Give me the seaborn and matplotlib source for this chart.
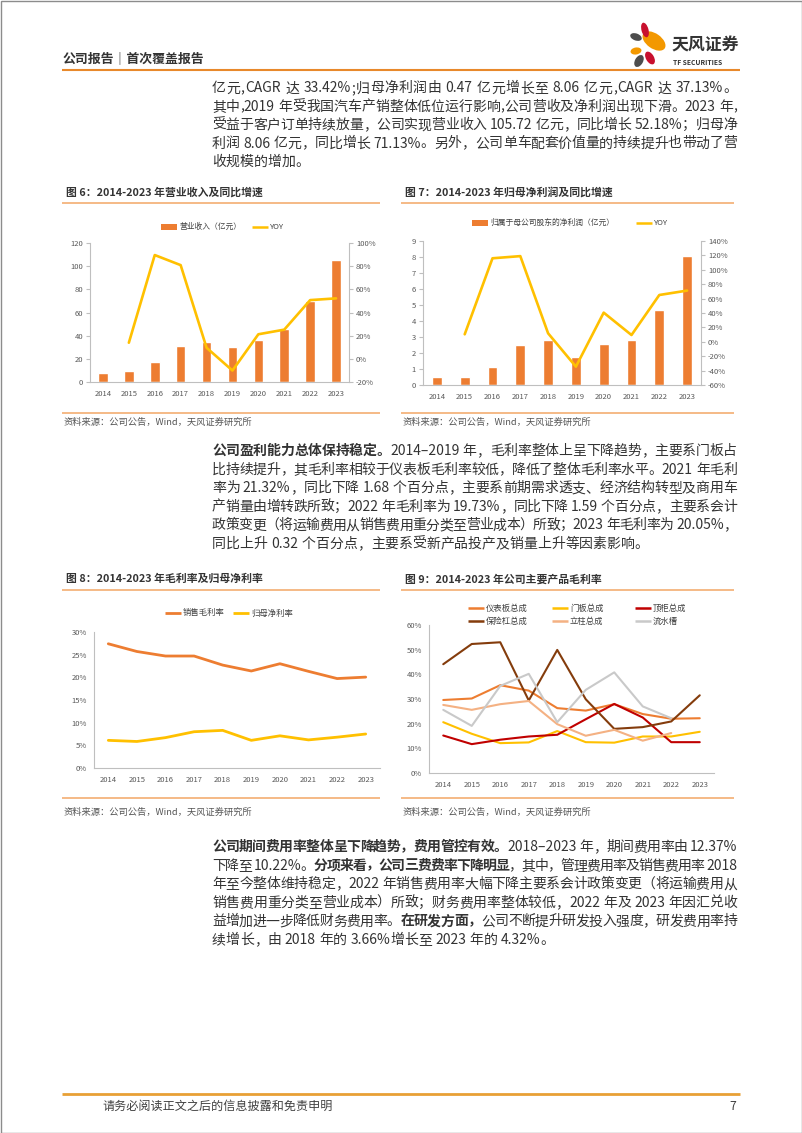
import re

import matplotlib
matplotlib.use("Agg")
import matplotlib.pyplot as plt
import numpy as np
import pandas as pd
import seaborn as sns
from matplotlib.patches import Ellipse, Rectangle
from matplotlib.ticker import FuncFormatter

W, H = 802, 1133

ORANGE = "#ED7D31"
GOLD = "#FFC000"
AXIS_GREY = "#BFBFBF"
TICK_TEXT = "#595959"
RULE = "#F2A766"
HEADER_RULE = "#E8892B"
FOOTER_RULE = "#E8A035"

YEARS = [str(y) for y in range(2014, 2024)]

# 图6 营业收入（亿元）及同比
REVENUE = [7.5, 9.3, 17.1, 30.7, 34.2, 30.1, 36.5, 45.5, 69.6, 105.72]
REVENUE_YOY = [13.9, 89.6, 80.9, 9.6, -10.1, 21.2, 25.2, 50.7, 52.2]  # 2015-2023

# 图7 归母净利润（亿元）及同比
NET_PROFIT = [0.47, 0.52, 1.10, 2.48, 2.81, 1.77, 2.56, 2.81, 4.69, 8.06]
NET_PROFIT_YOY = [10.4, 116.0, 119.0, 11.8, -34.5, 40.5, 9.4, 65.0, 71.13]  # 2015-2023

# 图8 毛利率 / 归母净利率（%）
GROSS_MARGIN = [27.4, 25.7, 24.7, 24.7, 22.7, 21.4, 23.0, 21.32, 19.73, 20.05]
NET_MARGIN = [6.1, 5.85, 6.7, 8.0, 8.3, 6.1, 7.1, 6.2, 6.8, 7.5]

# 图9 主要产品毛利率（%）
PRODUCTS = ["仪表板总成", "门板总成", "顶柜总成", "保险杠总成", "立柱总成", "流水槽"]
PRODUCT_COLORS = ["#ED7D31", "#FFC000", "#C00000", "#843C0C", "#F4B183", "#C9C9C9"]
DASHBOARD = [29.6, 30.2, 35.6, 33.4, 26.3, 25.3, 27.9, 23.9, 22.0, 22.2]
DOOR_PANEL = [20.6, 15.9, 12.1, 12.4, 17.0, 12.5, 12.3, 14.8, 14.8, 16.7]
TOP_CABINET = [15.2, 11.7, 13.5, 14.8, 15.5, 21.8, 28.0, 22.5, 12.5, 12.5]
BUMPER = [44.1, 52.3, 53.0, 29.4, 49.9, 29.9, 17.9, 18.6, 20.9, 31.5]
PILLAR = [27.6, 25.6, 27.9, 29.2, 19.8, 15.1, 17.5, 13.1, 16.2]  # 2014-2022
WATER_TROUGH = [25.6, 19.1, 35.3, 40.2, 20.6, 33.7, 40.8, 27.0, 22.2]  # 2014-2022

SOURCE = "资料来源：公司公告，Wind，天风证券研究所"

PARA_1 = [
    ([("亿元,CAGR 达 33.42%;归母净利润由 0.47 亿元增长至 8.06 亿元,CAGR 达 37.13%。", False)], True),
    ([("其中,2019 年受我国汽车产销整体低位运行影响,公司营收及净利润出现下滑。2023 年,", False)], True),
    ([("受益于客户订单持续放量，公司实现营业收入 105.72 亿元，同比增长 52.18%；归母净", False)], True),
    ([("利润 8.06 亿元，同比增长 71.13%。另外，公司单车配套价值量的持续提升也带动了营", False)], True),
    ([("收规模的增加。", False)], False),
]
PARA_2 = [
    ([("公司盈利能力总体保持稳定。", True), ("2014–2019 年，毛利率整体上呈下降趋势，主要系门板占", False)], True),
    ([("比持续提升，其毛利率相较于仪表板毛利率较低，降低了整体毛利率水平。2021 年毛利", False)], True),
    ([("率为 21.32%，同比下降 1.68 个百分点，主要系前期需求透支、经济结构转型及商用车", False)], True),
    ([("产销量由增转跌所致；2022 年毛利率为 19.73%，同比下降 1.59 个百分点，主要系会计", False)], True),
    ([("政策变更（将运输费用从销售费用重分类至营业成本）所致；2023 年毛利率为 20.05%，", False)], True),
    ([("同比上升 0.32 个百分点，主要系受新产品投产及销量上升等因素影响。", False)], False),
]
PARA_3 = [
    ([("公司期间费用率整体呈下降趋势，费用管控有效。", True), ("2018–2023 年，期间费用率由 12.37%", False)], True),
    ([("下降至 10.22%。", False), ("分项来看，公司三费费率下降明显", True), ("，其中，管理费用率及销售费用率 2018", False)], True),
    ([("年至今整体维持稳定，2022 年销售费用率大幅下降主要系会计政策变更（将运输费用从", False)], True),
    ([("销售费用重分类至营业成本）所致；财务费用率整体较低，2022 年及 2023 年因汇兑收", False)], True),
    ([("益增加进一步降低财务费用率。", False), ("在研发方面，", True), ("公司不断提升研发投入强度，研发费用率持", False)], True),
    ([("续增长，由 2018 年的 3.66%增长至 2023 年的 4.32%。", False)], False),
]

TOKEN_RE = re.compile(r"[A-Za-z0-9.%–\-]+| |.")


def px_axes(fig, left, top, right, bottom):
    return fig.add_axes([left / W, 1 - bottom / H, (right - left) / W, (bottom - top) / H])


def draw_paragraph(page, renderer, lines, x0, y0, width, step, size=10):
    space = size * 1.389 * 0.25
    for i, (segments, justify) in enumerate(lines):
        y = y0 + i * step
        items = []
        for text, bold in segments:
            for tok in TOKEN_RE.findall(text):
                if tok == " ":
                    items.append((None, space))
                    continue
                t = page.text(0, y, tok, fontsize=size, color="#333333",
                              weight="bold" if bold else "normal", ha="left", va="center")
                items.append((t, t.get_window_extent(renderer).width))
        total = sum(w for _, w in items)
        gap = (width - total) / (len(items) - 1) if justify and len(items) > 1 else 0.0
        x = x0
        for t, w in items:
            if t is not None:
                t.set_x(x)
            x += w + gap


def style_axes(ax, n=10):
    for side in ["top", "right"]:
        ax.spines[side].set_visible(False)
    for side in ["left", "bottom"]:
        ax.spines[side].set_color(AXIS_GREY)
        ax.spines[side].set_linewidth(0.8)
    ax.set_xlim(-0.5, n - 0.5)
    ax.set_xticks(range(n))
    ax.set_xticklabels(YEARS)
    ax.set_xticks(np.arange(-0.5, n), minor=True)
    ax.tick_params(axis="x", which="major", length=0, pad=6, labelsize=5.5, labelcolor=TICK_TEXT)
    ax.tick_params(axis="x", which="minor", length=3, width=0.8, color=AXIS_GREY)
    ax.tick_params(axis="y", length=3, width=0.8, color=AXIS_GREY, labelsize=5.5,
                   labelcolor=TICK_TEXT, pad=2)
    ax.set_xlabel("")
    ax.set_ylabel("")
    ax.grid(False)
    ax.set_facecolor("none")


def style_right(ax2):
    for side in ["top", "left", "bottom"]:
        ax2.spines[side].set_visible(False)
    ax2.spines["right"].set_color(AXIS_GREY)
    ax2.spines["right"].set_linewidth(0.8)
    ax2.tick_params(axis="y", length=3, width=0.8, color=AXIS_GREY, labelsize=5.5,
                    labelcolor=TICK_TEXT, pad=2)
    ax2.set_ylabel("")
    ax2.grid(False)
    ax2.yaxis.set_major_formatter(FuncFormatter(lambda v, _: f"{v:.0f}%"))


def chart_frame(page, x0, x1, title, title_y, rule_y, bottom_y, source_y):
    page.text(x0 + 4, title_y, title, fontsize=7.8, weight="bold", color="#333333",
              ha="left", va="center")
    page.plot([x0, x1], [rule_y, rule_y], color=RULE, lw=1.1, solid_capstyle="butt")
    page.plot([x0, x1], [bottom_y, bottom_y], color=RULE, lw=1.1, solid_capstyle="butt")
    page.text(x0 + 2, source_y, SOURCE, fontsize=6.7, color="#555555", ha="left", va="center")


def legend_line(page, x, y, color, label, lw=1.6, length=16, size=5.6):
    page.plot([x, x + length], [y, y], color=color, lw=lw, solid_capstyle="butt")
    page.text(x + length + 2, y, label, fontsize=size, color="#404040", ha="left", va="center")


def legend_bar(page, x, y, color, label, size=5.6):
    page.add_patch(Rectangle((x, y - 3), 16, 6, color=color, lw=0))
    page.text(x + 18, y, label, fontsize=size, color="#404040", ha="left", va="center")


def main() -> None:
    sns.set_theme(style="white")
    plt.rcParams["font.family"] = ["Noto Sans CJK SC", "DejaVu Sans"]
    plt.rcParams["axes.unicode_minus"] = False

    fig = plt.figure(figsize=(W / 100, H / 100), dpi=100)
    fig.patch.set_facecolor("white")
    page = fig.add_axes([0, 0, 1, 1])
    page.set_xlim(0, W)
    page.set_ylim(H, 0)
    page.axis("off")
    renderer = fig.canvas.get_renderer()

    # page border
    page.add_patch(Rectangle((0.5, 0.5), W - 1, H - 1, fill=False, edgecolor="#8C8C8C", lw=1.0))

    # header
    page.text(63, 58, "公司报告｜首次覆盖报告", fontsize=9.3, weight="bold", color="#333333",
              ha="left", va="center")
    page.plot([62, 740], [69.5, 69.5], color=HEADER_RULE, lw=1.5, solid_capstyle="butt")
    petals = [
        ((654, 41), 26, 15, 35, "#F39800"),
        ((645, 30), 15, 7, 75, "#C8102E"),
        ((636, 37), 12, 7, 20, "#4D4D4D"),
        ((636, 51), 11, 7, -10, "#F39800"),
        ((650, 58), 14, 8, 60, "#C8102E"),
        ((639, 61), 13, 8, -60, "#4D4D4D"),
    ]
    for (cx, cy), w, h, ang, col in petals:
        page.add_patch(Ellipse((cx, cy), w, h, angle=ang, color=col, lw=0))
    page.text(671, 46, "天风证券", fontsize=12.2, weight="bold", color="#333333", ha="left", va="center")
    page.text(673, 62.5, "TF SECURITIES", fontsize=4.8, weight="bold", color="#333333",
              ha="left", va="center")

    draw_paragraph(page, renderer, PARA_1, 212, 88.3, 525, 18.4)
    draw_paragraph(page, renderer, PARA_2, 212, 451, 525, 18.6)
    draw_paragraph(page, renderer, PARA_3, 212, 847, 525, 18.6)

    # footer
    page.plot([62, 740], [1094, 1094], color=FOOTER_RULE, lw=2.0, solid_capstyle="butt")
    page.text(102, 1106, "请务必阅读正文之后的信息披露和免责申明", fontsize=8.7, color="#404040",
              ha="left", va="center")
    page.text(736, 1106, "7", fontsize=8.7, color="#404040", ha="right", va="center")

    # ---- 图6
    chart_frame(page, 62, 380, "图 6：2014-2023 年营业收入及同比增速", 192, 203, 413, 422)
    legend_bar(page, 161, 227, ORANGE, "营业收入（亿元）")
    legend_line(page, 252, 227, GOLD, "YOY", lw=1.8)
    ax6 = px_axes(fig, 90, 243, 349, 382)
    sns.barplot(x=YEARS, y=REVENUE, color=ORANGE, saturation=1, width=0.37, ax=ax6)
    style_axes(ax6)
    ax6.set_ylim(0, 120)
    ax6.set_yticks(range(0, 121, 20))
    ax6b = ax6.twinx()
    sns.lineplot(x=np.arange(1, 10), y=REVENUE_YOY, color=GOLD, lw=1.9, ax=ax6b)
    ax6b.set_ylim(-20, 100)
    ax6b.set_yticks(range(-20, 101, 20))
    style_right(ax6b)

    # ---- 图7
    chart_frame(page, 401, 734, "图 7：2014-2023 年归母净利润及同比增速", 192, 203, 413, 422)
    legend_bar(page, 472, 223, ORANGE, "归属于母公司股东的净利润（亿元）")
    legend_line(page, 636, 223, GOLD, "YOY", lw=1.8)
    ax7 = px_axes(fig, 423, 241, 701, 385)
    sns.barplot(x=YEARS, y=NET_PROFIT, color=ORANGE, saturation=1, width=0.35, ax=ax7)
    style_axes(ax7)
    ax7.set_ylim(0, 9)
    ax7.set_yticks(range(0, 10))
    ax7b = ax7.twinx()
    sns.lineplot(x=np.arange(1, 10), y=NET_PROFIT_YOY, color=GOLD, lw=1.9, ax=ax7b)
    ax7b.set_ylim(-60, 140)
    ax7b.set_yticks(range(-60, 141, 20))
    style_right(ax7b)

    # ---- 图8
    chart_frame(page, 62, 380, "图 8：2014-2023 年毛利率及归母净利率", 579, 590, 798, 812)
    legend_line(page, 165, 613, ORANGE, "销售毛利率", lw=2.0, size=6.0)
    legend_line(page, 233, 613, GOLD, "归母净利率", lw=2.0, size=6.0)
    ax8 = px_axes(fig, 94, 632, 380, 768)
    pos = np.arange(len(YEARS))
    sns.lineplot(x=pos, y=GROSS_MARGIN, color=ORANGE, lw=2.0, ax=ax8)
    sns.lineplot(x=pos, y=NET_MARGIN, color=GOLD, lw=2.0, ax=ax8)
    style_axes(ax8)
    ax8.set_ylim(0, 30)
    ax8.set_yticks(range(0, 31, 5))
    ax8.yaxis.set_major_formatter(FuncFormatter(lambda v, _: f"{v:.0f}%"))

    # ---- 图9
    chart_frame(page, 401, 734, "图 9：2014-2023 年公司主要产品毛利率", 579, 590, 798, 812)
    cols = [468, 552, 635]
    for k, (name, col) in enumerate(zip(PRODUCTS, PRODUCT_COLORS)):
        legend_line(page, cols[k % 3], 608 if k < 3 else 621, col, name, lw=1.8, size=6.0)
    series = [DASHBOARD, DOOR_PANEL, TOP_CABINET, BUMPER, PILLAR, WATER_TROUGH]
    df9 = pd.DataFrame(
        [{"pos": i, "product": name, "margin": v}
         for name, vals in zip(PRODUCTS, series) for i, v in enumerate(vals)]
    )
    ax9 = px_axes(fig, 429, 625, 714, 773)
    sns.lineplot(data=df9, x="pos", y="margin", hue="product", hue_order=PRODUCTS,
                 palette=PRODUCT_COLORS, lw=1.5, errorbar=None, legend=False, ax=ax9)
    style_axes(ax9)
    ax9.set_ylim(0, 60)
    ax9.set_yticks(range(0, 61, 10))
    ax9.yaxis.set_major_formatter(FuncFormatter(lambda v, _: f"{v:.0f}%"))

    fig.savefig("out.png", dpi=100, facecolor="white")
    plt.close(fig)


if __name__ == "__main__":
    main()
